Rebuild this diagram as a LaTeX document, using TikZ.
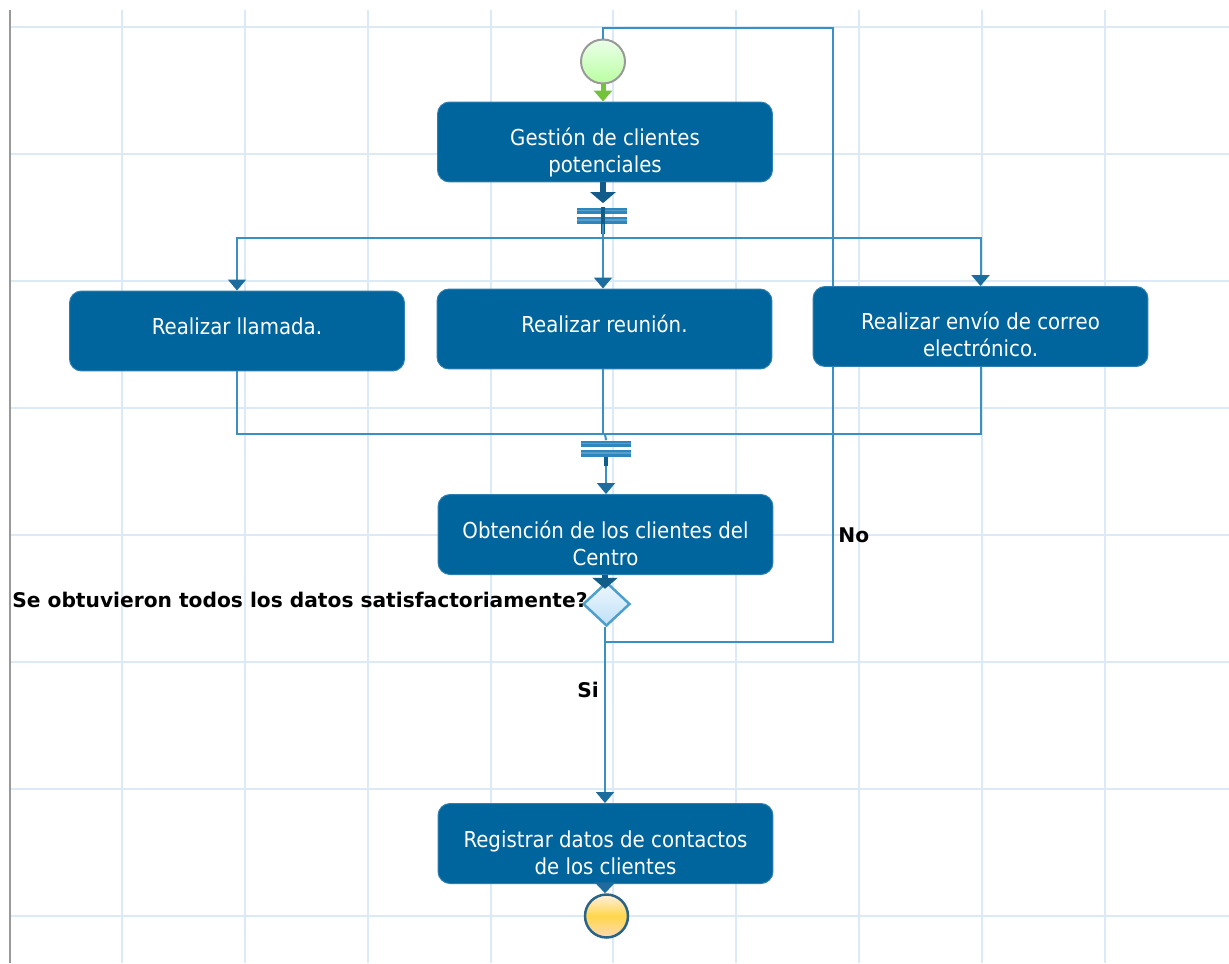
\documentclass[tikz,border=0pt]{standalone}
\usepackage{fontspec}
\setmainfont{DejaVu Sans Condensed}
\newfontfamily\guardfont{DejaVu Sans}
\usetikzlibrary{arrows.meta,shapes.geometric}

\definecolor{boxblue}{HTML}{00659C}
\definecolor{boxedge}{HTML}{2D7FB0}
\definecolor{lineblue}{HTML}{3A8FC3}
\definecolor{tipblue}{HTML}{1C6C9E}
\definecolor{darkblue}{HTML}{125C8A}
\definecolor{barblue}{HTML}{2F86BF}
\definecolor{gridblue}{HTML}{DCEAF7}
\definecolor{startgreen}{HTML}{74C23A}
\definecolor{gwtop}{HTML}{EEF7FE}
\definecolor{gwbottom}{HTML}{BFE0F6}
\definecolor{gwedge}{HTML}{4E9FCC}

\newcommand{\tasklines}[1]{\parbox[t]{6.5cm}{\centering #1}}

\begin{document}
\begin{tikzpicture}[x=0.02cm,y=-0.02cm,
  task/.style={rectangle, rounded corners=0.24cm, fill=boxblue, draw=boxedge,
    line width=0.02cm, minimum width=6.7cm, minimum height=1.6cm, inner sep=0},
  tasktext/.style={anchor=base, inner sep=0, text=white,
    font=\fontsize{12.5}{15.4}\selectfont},
  cond/.style={font=\guardfont\fontsize{11.5}{14}\selectfont\bfseries, inner sep=0},
  flow/.style={draw=lineblue, line width=0.04cm},
  into/.style={flow, -{Triangle[width=0.36cm,length=0.22cm,color=tipblue]}},
  heavy/.style={draw=darkblue, line width=0.11cm,
    -{Triangle[width=0.5cm,length=0.22cm]}},
  stub/.style={draw=darkblue, line width=0.09cm},
  syncbar/.style={rectangle, minimum width=1cm, minimum height=0.32cm, inner sep=0,
    path picture={
      \fill[barblue] (path picture bounding box.north west) rectangle
        ([yshift=-0.13cm]path picture bounding box.north east);
      \fill[barblue] (path picture bounding box.south west) rectangle
        ([yshift=0.13cm]path picture bounding box.south east);
      \fill[white,opacity=0.2] ([yshift=-0.04cm]path picture bounding box.north west) rectangle
        ([yshift=-0.07cm]path picture bounding box.north east);
      \fill[white,opacity=0.2] ([yshift=0.06cm]path picture bounding box.south west) rectangle
        ([yshift=0.09cm]path picture bounding box.south east);
    }},
]
\useasboundingbox (0,0) rectangle (1229,963);
\fill[white] (0,0) rectangle (1229,963);

% background grid
\foreach \gx in {122,245,368,491,613,736,859,982,1105}
  \draw[gridblue, line width=0.055cm] (\gx,10) -- (\gx,963);
\foreach \gy in {27,154,281,408,535,662,789,916}
  \draw[gridblue, line width=0.055cm] (10,\gy) -- (1229,\gy);
\draw[black!40, line width=0.05cm] (10,10) -- (10,963);

% routing coordinates
\coordinate (noA) at (833,642);
\coordinate (noTop) at (603,28);
\coordinate (splitY) at (603,237.5);
\coordinate (mergeY) at (605,434);

% events, activities, gateways
\node[circle, minimum size=0.88cm, inner sep=0, draw=black!40, line width=0.04cm,
  top color=green!8!white, bottom color=green!30!white!90!yellow] (st) at (603,61.5) {};
\node[task] (b1) at (605,142) {};
\node[tasktext] (b1t) at (605,145) {\tasklines{Gestión de clientes\\potenciales}};
\node[syncbar] (fk) at (602,215.5) {};

\node[task] (b2) at (237,331) {};
\node[tasktext] (b2t) at (237,334) {\tasklines{Realizar llamada.}};
\node[task] (b3) at (604.5,329) {};
\node[tasktext] (b3t) at (604.5,332) {\tasklines{Realizar reunión.}};

\node[syncbar] (jn) at (606,448.5) {};
\node[task] (b5) at (605.5,534.5) {};
\node[tasktext] (b5t) at (605.5,538) {\tasklines{Obtención de los clientes del\\Centro}};
\node[diamond, minimum width=0.94cm, minimum height=0.88cm, inner sep=0,
  draw=gwedge, line width=0.05cm, top color=gwtop, bottom color=gwbottom]
  (dec) at (606.5,604) {};
\node[task] (b6) at (605.5,843.5) {};
\node[tasktext] (b6t) at (605.5,847) {\tasklines{Registrar datos de contactos\\de los clientes}};
\node[circle, minimum size=0.86cm, inner sep=0, draw=lineblue!70!black, line width=0.05cm,
  top color=orange!12!white, bottom color=orange!30!white,
  middle color=orange!45!yellow!70!white] (en) at (606.5,916) {};

% "No" loop back to the start event
\draw[flow] (dec.south -| mergeY) |- (noA) |- (noTop) -- (st.north);

% e-mail task sits on top of the loop line
\node[task] (b4) at (980.5,326.5) {};
\node[tasktext] (b4t) at (980.5,329.5) {\tasklines{Realizar envío de correo\\electrónico.}};

% start to first task
\draw[startgreen, line width=0.1cm, -{Triangle[width=0.36cm,length=0.22cm]}]
  (st.south) -- (b1.north -| st.south);

% fork
\draw[heavy] (b1.south -| splitY) -- ([yshift=0.08cm]fk.north -| splitY);
\draw[stub] (fk.north -| splitY) -- ([yshift=-0.2cm]fk.south -| splitY);
\draw[flow] (fk.south -| splitY) -- (splitY);
\draw[into] (splitY) -| (b2.north);
\draw[into] (splitY) -| (b4.north);
\draw[into] (splitY) -- (splitY |- b3.north);

% join
\draw[flow] (b2.south) |- (mergeY);
\draw[flow] (b4.south) |- (mergeY);
\draw[flow] (b3.south -| splitY) -- (splitY |- mergeY);
\draw[flow] (mergeY) -- (jn.north);
\draw[into] (jn.south) -- (b5.north -| jn.south);
\draw[stub] (jn.south) -- ([yshift=-0.18cm]jn.south);

% decision
\draw[heavy] (b5.south -| mergeY) -- ([yshift=-0.16cm]dec.north -| mergeY);
\draw[into] (dec.south -| mergeY) -- (b6.north -| mergeY);
\draw[draw=tipblue, line width=0.07cm, -{Triangle[width=0.4cm,length=0.22cm]}]
  (b6.south -| mergeY) -- (en.north -| mergeY);

% labels
\node[cond, anchor=base west] (q) at (12,607) {Se obtuvieron todos los datos satisfactoriamente?};
\node[cond, anchor=base west] (no) at (838,542) {No};
\node[cond, anchor=base west] (si) at (577,697) {Si};
\end{tikzpicture}
\end{document}
